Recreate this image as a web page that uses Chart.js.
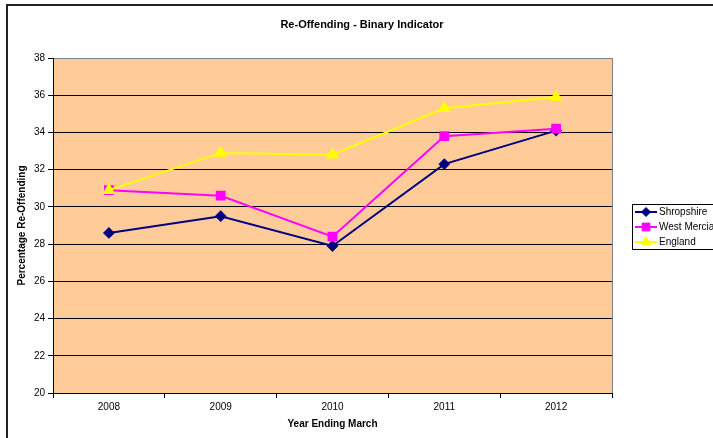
<!DOCTYPE html>
<html>
<head>
<meta charset="utf-8">
<script src="https://cdn.jsdelivr.net/npm/chart.js@4/dist/chart.umd.min.js"></script>
<style>
  html, body { margin: 0; padding: 0; background: #fff; }
  #wrap { position: relative; width: 713px; height: 438px; }
  canvas { display: block; }
</style>
</head>
<body>
<div id="wrap"><canvas id="c" width="713" height="438"></canvas></div>
<script>
const categories = ['2008', '2009', '2010', '2011', '2012'];
const shropshire = [28.6, 29.5, 27.9, 32.3, 34.1];
const westMercia = [30.9, 30.6, 28.4, 33.8, 34.2];
const england    = [30.9, 32.9, 32.8, 35.3, 35.9];
const seriesNames = ['Shropshire', 'West Mercia', 'England'];
const yTicks = { min: 20, max: 38, step: 2 };
const chartTitle = 'Re-Offending - Binary Indicator';
const xTitle = 'Year Ending March';
const yTitle = 'Percentage Re-Offending';

const FONT = "'Liberation Sans', Arial, sans-serif";
const colors = ['#000080', '#FF00FF', '#FFFF00'];
const styles = ['rectRot', 'rect', 'triangle'];
const radii = [4.5, 5.5, 5.5];

const datasets = [shropshire, westMercia, england].map((vals, i) => ({
  label: seriesNames[i],
  data: vals,
  borderColor: colors[i],
  backgroundColor: colors[i],
  pointBackgroundColor: colors[i],
  pointBorderColor: colors[i],
  pointStyle: styles[i],
  pointRadius: radii[i],
  pointHoverRadius: radii[i],
  borderWidth: 2,
  tension: 0,
  fill: false
}));

const extras = {
  id: 'extras',
  beforeDraw(chart) {
    const { ctx, chartArea: a } = chart;
    ctx.save();
    ctx.fillStyle = '#FFCC99';
    ctx.fillRect(a.left, a.top, a.right - a.left, a.bottom - a.top);
    ctx.restore();
  },
  beforeDatasetsDraw(chart) {
    const { ctx, chartArea: a } = chart;
    ctx.save();
    ctx.strokeStyle = '#808080';
    ctx.lineWidth = 1;
    ctx.beginPath();
    ctx.moveTo(Math.round(a.right) + 0.5, a.top);
    ctx.lineTo(Math.round(a.right) + 0.5, a.bottom);
    ctx.stroke();
    ctx.restore();
  },
  afterDraw(chart) {
    const { ctx } = chart;
    ctx.save();
    // outer frame
    ctx.strokeStyle = '#222';
    ctx.lineWidth = 2;
    ctx.strokeRect(7, 5, 730, 460);
    // title
    ctx.fillStyle = '#000';
    ctx.font = 'bold 11px ' + FONT;
    ctx.textAlign = 'center';
    ctx.textBaseline = 'middle';
    ctx.fillText(chartTitle, 362, 25);
    // legend
    const lx = 632, ly = 204, lh = 15;
    ctx.strokeStyle = '#000';
    ctx.lineWidth = 1;
    ctx.strokeRect(lx + 0.5, ly + 0.5, 100, 45);
    ctx.font = '10px ' + FONT;
    ctx.textAlign = 'left';
    datasets.forEach((ds, i) => {
      const y = ly + 8 + i * lh;
      ctx.strokeStyle = ds.borderColor;
      ctx.lineWidth = 2;
      ctx.beginPath();
      ctx.moveTo(lx + 3, y);
      ctx.lineTo(lx + 25, y);
      ctx.stroke();
      ctx.fillStyle = ds.borderColor;
      ctx.strokeStyle = ds.borderColor;
      ctx.lineWidth = 1;
      Chart.helpers.drawPoint(ctx, {
        pointStyle: ds.pointStyle, radius: ds.pointRadius, borderWidth: 1, rotation: 0
      }, lx + 14, y);
      ctx.fillStyle = '#000';
      ctx.fillText(ds.label, lx + 27, y + 0.5);
    });
    ctx.restore();
  }
};

new Chart(document.getElementById('c'), {
  type: 'line',
  data: { labels: categories, datasets: datasets.slice().reverse() },
  options: {
    responsive: false,
    animation: false,
    events: [],
    layout: { padding: { top: 58, right: 101, bottom: 0, left: 0 } },
    plugins: {
      legend: { display: false },
      title: { display: false },
      tooltip: { enabled: false }
    },
    scales: {
      x: {
        type: 'category',
        offset: true,
        afterFit(s) { s.height = 45; },
        grid: { offset: true, drawOnChartArea: false, drawTicks: true, tickLength: 5, color: '#000' },
        border: { display: true, color: '#000', width: 1 },
        ticks: { color: '#000', font: { family: FONT, size: 10 }, padding: 3, maxRotation: 0 },
        title: { display: true, text: xTitle, color: '#000', font: { family: FONT, size: 10, weight: 'bold' }, padding: { top: 0, bottom: 8 } }
      },
      y: {
        min: yTicks.min,
        max: yTicks.max,
        afterFit(s) { s.width = 53; },
        ticks: { stepSize: yTicks.step, color: '#000', font: { family: FONT, size: 10 }, padding: 3 },
        grid: {
          color: (c) => (c.tick && c.tick.value === yTicks.max) ? '#808080' : '#000',
          tickColor: '#000',
          tickLength: 5,
          lineWidth: 1
        },
        border: { display: true, color: '#000', width: 1 },
        title: { display: true, text: yTitle, color: '#000', font: { family: FONT, size: 10, weight: 'bold' }, padding: { top: 16, bottom: 0 } }
      }
    }
  },
  plugins: [extras]
});
</script>
</body>
</html>
